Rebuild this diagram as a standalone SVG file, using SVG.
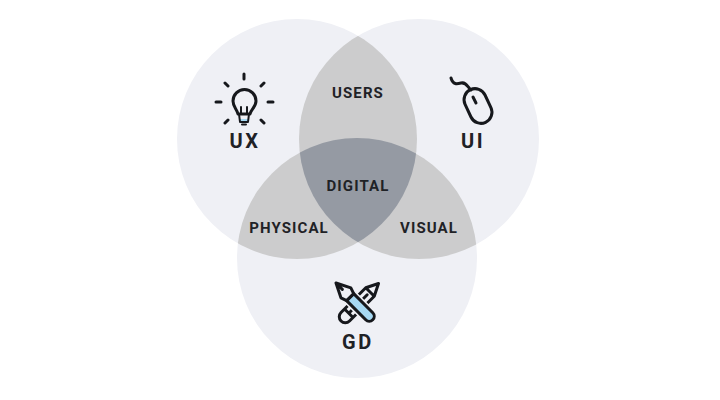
<svg xmlns="http://www.w3.org/2000/svg" width="720" height="400" viewBox="0 0 720 400">
<style>
.c{fill:#eff0f5}
.p{fill:#cccccd}
.m{fill:#959aa3}
.t{font-family:"Roboto","Liberation Sans",sans-serif;font-weight:700;fill:#1f2226;text-anchor:middle}
.s{font-size:15px;letter-spacing:1.1px}
.b{font-size:20px;letter-spacing:2.6px}
.i{fill:none;stroke:#16181c;stroke-width:3;stroke-linecap:round;stroke-linejoin:round}
.n{fill:none;stroke:#16181c;stroke-width:2;stroke-linecap:round;stroke-linejoin:round}
</style>
<defs>
<clipPath id="cl"><circle cx="297" cy="139" r="120"/></clipPath>
<clipPath id="cr"><circle cx="419" cy="139" r="120"/></clipPath>
</defs>
<rect width="720" height="400" fill="#fff"/>
<g id="venn">
<circle class="c" cx="297" cy="139" r="120"/>
<circle class="c" cx="419" cy="139" r="120"/>
<circle class="c" cx="357" cy="258" r="120"/>
<g clip-path="url(#cl)"><circle class="p" cx="419" cy="139" r="120"/><circle class="p" cx="357" cy="258" r="120"/></g>
<g clip-path="url(#cr)"><circle class="p" cx="357" cy="258" r="120"/></g>
<g clip-path="url(#cl)"><g clip-path="url(#cr)"><circle class="m" cx="357" cy="258" r="120"/></g></g>
</g>
<g id="ux">
<path class="i" d="M244 74V79M225 83L228 86M264 83L261 86M216 102H221M268 102H273M225 123L228 120M264 123L261 120"/>
<rect x="240" y="119" width="8" height="3.500" fill="#a6d8f2"/>
<path class="i" stroke-width="2.800" d="M238 114C237 109 233 107 233 101A11.500 11.500 0 0 1 256 101C256 107 251 109 250 114Z"/>
<path class="n" d="M241 114V107M247 114V107M239 114L240 122H248L249 114M242 124.500H246"/>
<text class="t b" x="245" y="148">UX</text>
</g>
<g id="ui">
<path class="i" d="M451 78C453 85 457 84 461 83C466 82 467 86 471 90"/>
<rect class="i" x="467" y="88" width="22" height="36" rx="11" transform="rotate(-25 478 106)"/>
<path class="i" stroke-width="2.500" d="M473 97L476 103"/>
<text class="t b" x="473" y="148">UI</text>
</g>
<g id="gd">
<g transform="translate(378.500 283.500) rotate(135)">
<path class="i" d="M0 0L12 -6H47A6 6 0 0 1 47 6H12ZM12 -6V6M42 -6V6M16 0H42" stroke-width="2.600"/>
</g>
<g transform="translate(336 283) rotate(45)">
<path d="M20 -5H47A5 5 0 0 1 47 5H20Z" fill="#a6d8f2" stroke="#eff0f5" stroke-width="6"/>
<path class="i" d="M20 -5H47A5 5 0 0 1 47 5H20Z" fill="#a6d8f2" style="fill:#a6d8f2" stroke-width="2.600"/>
<path class="i" style="fill:#eff0f5" d="M0 0L14 -7L20 -5V5L14 7ZM0 0L9 0" stroke-width="2.600"/>
</g>
<text class="t b" x="358" y="349">GD</text>
</g>
<g id="users"><text class="t s" x="358" y="98">USERS</text></g>
<g id="digital"><text class="t s" x="358" y="191">DIGITAL</text></g>
<g id="physical"><text class="t s" x="289" y="233">PHYSICAL</text></g>
<g id="visual"><text class="t s" x="429" y="233">VISUAL</text></g>
</svg>
